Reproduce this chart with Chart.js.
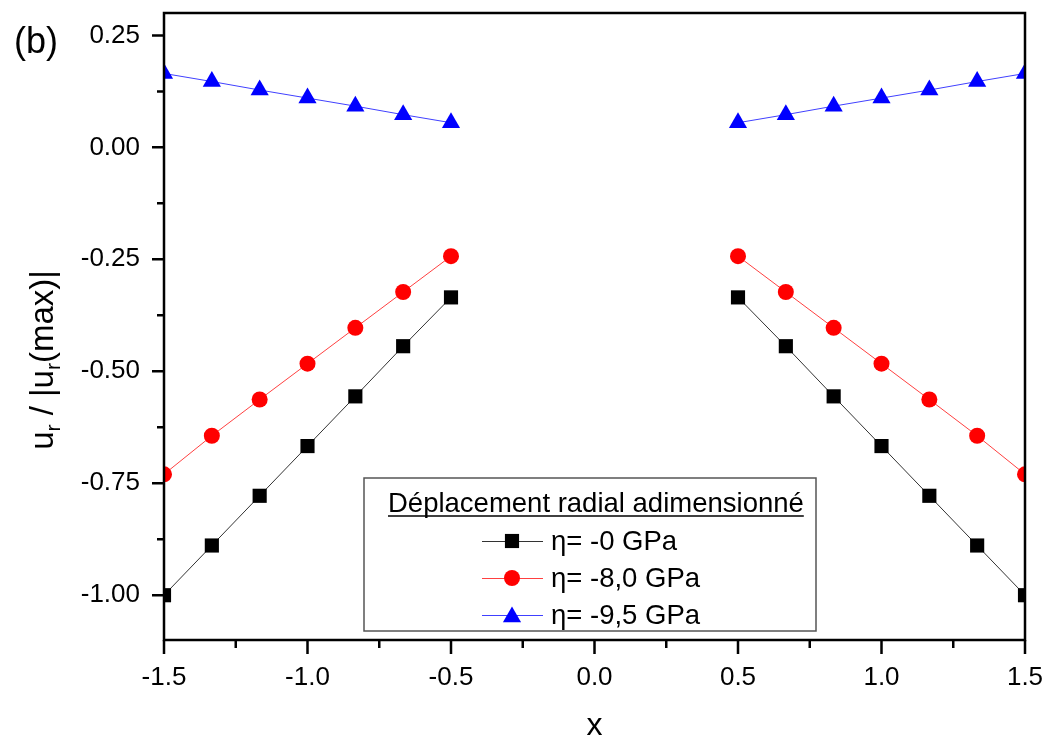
<!DOCTYPE html>
<html><head><meta charset="utf-8">
<script src="https://cdn.jsdelivr.net/npm/chart.js@4/dist/chart.umd.min.js"></script>
<style>html,body{margin:0;padding:0;background:#fff}#wrap{width:1047px;height:738px;position:relative}</style>
</head><body><div id="wrap"><canvas id="c" width="1047" height="738"></canvas></div>
<script>
const xValues = [-1.5, -1.3333, -1.1667, -1.0, -0.8333, -0.6667, -0.5, 0, 0.5, 0.6667, 0.8333, 1.0, 1.1667, 1.3333, 1.5];
const eta0 = [-1.0, -0.889, -0.778, -0.667, -0.556, -0.444, -0.335, null, -0.335, -0.444, -0.556, -0.667, -0.778, -0.889, -1.0];
const eta80 = [-0.730, -0.644, -0.563, -0.483, -0.403, -0.323, -0.243, null, -0.243, -0.323, -0.403, -0.483, -0.563, -0.644, -0.730];
const eta95 = [0.165, 0.147, 0.128, 0.110, 0.092, 0.073, 0.055, null, 0.055, 0.073, 0.092, 0.110, 0.128, 0.147, 0.165];
const seriesLabels = ['η= -0 GPa', 'η= -8,0 GPa', 'η= -9,5 GPa'];
const legendTitle = 'Déplacement radial adimensionné';
const xTicksMajor = [-1.5, -1.0, -0.5, 0.0, 0.5, 1.0, 1.5];
const xTicksMinor = [-1.25, -0.75, -0.25, 0.25, 0.75, 1.25];
const yTicksMajor = [-1.0, -0.75, -0.5, -0.25, 0.0, 0.25];
const yTicksMinor = [-0.875, -0.625, -0.375, -0.125, 0.125];

const FONT = '"Liberation Sans", Arial, sans-serif';
const toPts = arr => arr.map((v, i) => ({x: xValues[i], y: v}));
const styles = [
  {color: '#000000', line: '#333333', point: 'rect', r: 10},
  {color: '#ff0000', line: '#ff4040', point: 'circle', r: 8},
  {color: '#0000ff', line: '#4040ff', point: 'triangle', r: 10.5}
];
const seriesData = [eta0, eta80, eta95];

const decor = {
  id: 'decor',
  afterDraw(chart) {
    const ctx = chart.ctx, a = chart.chartArea;
    const xs = chart.scales.x, ys = chart.scales.y;
    ctx.save();
    ctx.strokeStyle = '#000'; ctx.lineWidth = 2.5;
    ctx.strokeRect(a.left, a.top, a.right - a.left, a.bottom - a.top);
    ctx.lineWidth = 2.5; ctx.beginPath();
    yTicksMajor.forEach(v => { const p = ys.getPixelForValue(v); ctx.moveTo(a.left, p); ctx.lineTo(a.left - 12, p); });
    yTicksMinor.forEach(v => { const p = ys.getPixelForValue(v); ctx.moveTo(a.left, p); ctx.lineTo(a.left - 7, p); });
    xTicksMajor.forEach(v => { const p = xs.getPixelForValue(v); ctx.moveTo(p, a.bottom); ctx.lineTo(p, a.bottom + 14); });
    xTicksMinor.forEach(v => { const p = xs.getPixelForValue(v); ctx.moveTo(p, a.bottom); ctx.lineTo(p, a.bottom + 8); });
    ctx.stroke();
    ctx.fillStyle = '#000';
    ctx.font = '36px ' + FONT; ctx.textAlign = 'center'; ctx.textBaseline = 'middle';
    ctx.fillText('(b)', 36, 43);
    ctx.font = '32px ' + FONT; ctx.textBaseline = 'alphabetic';
    ctx.fillText('x', (a.left + a.right) / 2, 735);
    ctx.save();
    ctx.translate(53, 360); ctx.rotate(-Math.PI / 2);
    const parts = [['u', 0], ['r', 1], [' / |u', 0], ['r', 1], ['(max)|', 0]];
    const mainF = '33px ' + FONT, subF = '21px ' + FONT;
    let total = 0;
    parts.forEach(p => { ctx.font = p[1] ? subF : mainF; total += ctx.measureText(p[0]).width; });
    let x = -total / 2;
    ctx.textAlign = 'left'; ctx.textBaseline = 'alphabetic';
    parts.forEach(p => {
      ctx.font = p[1] ? subF : mainF;
      ctx.fillText(p[0], x, p[1] ? 7 : 0);
      x += ctx.measureText(p[0]).width;
    });
    ctx.restore();
    const L = {x: 364, y: 478, w: 452, h: 153};
    ctx.fillStyle = '#fff'; ctx.fillRect(L.x, L.y, L.w, L.h);
    ctx.strokeStyle = '#555'; ctx.lineWidth = 1.5;
    ctx.strokeRect(L.x, L.y, L.w, L.h);
    ctx.fillStyle = '#000';
    ctx.font = '27.5px ' + FONT; ctx.textAlign = 'left'; ctx.textBaseline = 'alphabetic';
    const tw = ctx.measureText(legendTitle).width;
    const tx = 388;
    ctx.fillText(legendTitle, tx, 512);
    ctx.strokeStyle = '#000'; ctx.lineWidth = 1.5;
    ctx.beginPath(); ctx.moveTo(tx, 516); ctx.lineTo(tx + tw, 516); ctx.stroke();
    const rows = [541, 578, 615];
    seriesLabels.forEach((lab, i) => {
      const s = styles[i], yy = rows[i];
      ctx.strokeStyle = s.line; ctx.lineWidth = 1;
      ctx.beginPath(); ctx.moveTo(482, yy + 0.5); ctx.lineTo(543, yy + 0.5); ctx.stroke();
      ctx.fillStyle = s.color; ctx.strokeStyle = s.color;
      Chart.helpers.drawPoint(ctx, {pointStyle: s.point, radius: s.r, borderWidth: 0}, 512, yy + (s.point === 'triangle' ? 2 : 0));
      ctx.fillStyle = '#000'; ctx.textBaseline = 'middle';
      ctx.font = '27.5px ' + FONT;
      ctx.fillText(lab, 551, yy + 1);
    });
    ctx.restore();
  }
};

new Chart(document.getElementById('c'), {
  type: 'scatter',
  data: {
    datasets: seriesData.map((d, i) => ({
      label: seriesLabels[i],
      data: toPts(d),
      showLine: true,
      spanGaps: false,
      borderColor: styles[i].line,
      borderWidth: 1,
      backgroundColor: styles[i].color,
      pointStyle: styles[i].point,
      pointRadius: styles[i].r,
      pointHoverRadius: styles[i].r,
      pointBorderWidth: 0,
      pointBackgroundColor: styles[i].color,
      clip: 0
    }))
  },
  options: {
    responsive: false,
    animation: false,
    devicePixelRatio: 1,
    layout: {padding: {left: 0, top: 13, right: 22, bottom: 0}},
    plugins: {legend: {display: false}, tooltip: {enabled: false}},
    scales: {
      x: {
        type: 'linear', min: -1.5, max: 1.5,
        grid: {display: false, drawTicks: false},
        border: {display: false},
        afterBuildTicks: s => { s.ticks = xTicksMajor.map(v => ({value: v})); },
        afterFit: s => { s.height = 98; s.paddingLeft = 0; s.paddingRight = 0; },
        ticks: {font: {family: FONT, size: 26}, color: '#000', padding: 22, maxRotation: 0,
          callback: v => v.toFixed(1)}
      },
      y: {
        type: 'linear', min: -1.1, max: 0.3,
        grid: {display: false, drawTicks: false},
        border: {display: false},
        afterBuildTicks: s => { s.ticks = yTicksMajor.map(v => ({value: v})); },
        afterFit: s => { s.width = 164; s.paddingTop = 0; s.paddingBottom = 0; },
        ticks: {font: {family: FONT, size: 26}, color: '#000', padding: 24,
          callback: v => v.toFixed(2)}
      }
    }
  },
  plugins: [decor]
});
</script></body></html>
